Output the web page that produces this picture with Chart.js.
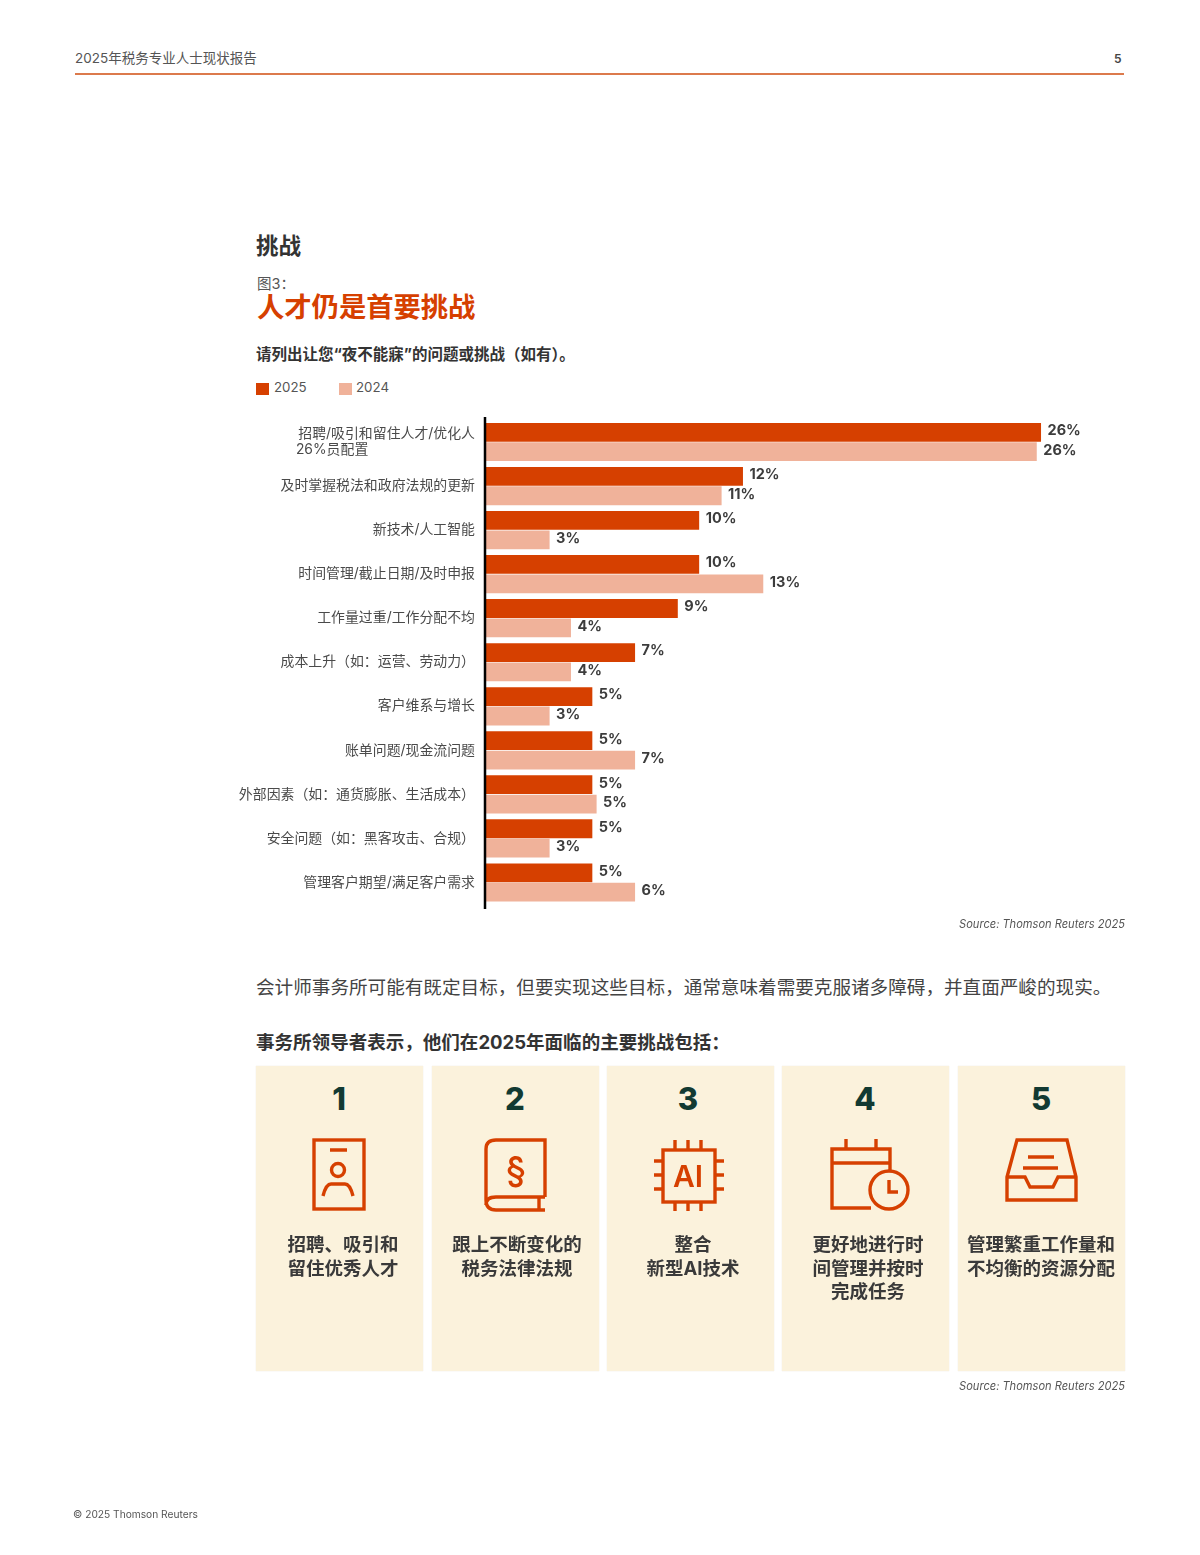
<!DOCTYPE html>
<html lang="zh-CN">
<head>
<meta charset="UTF-8">
<title>人才仍是首要挑战</title>
<style>
  body { margin: 0; background: #fff; font-family: Inter, "Noto Sans CJK SC", sans-serif; color: #3c3c3c; }
  #page { position: relative; width: 1200px; height: 1555px; overflow: hidden; }
  .t { position: absolute; white-space: nowrap; }
  .card { position: absolute; top: 1066px; width: 167px; height: 305px; background: #fbf2dc; box-shadow: 0 0 1px #e6e0d2; }
  .num { position: absolute; top: 1081px; width: 60px; text-align: center; font-size: 31px; line-height: 36px; font-weight: 800; color: #123a32; }
  .cardText { position: absolute; top: 1233px; width: 170px; text-align: center; font-size: 18.5px; line-height: 23.7px; font-weight: 700; color: #3a3a3a; }
  .src { font-size: 11.1px; font-style: italic; color: #555; line-height: 14px; }
  .swatch { position: absolute; top: 383px; width: 13px; height: 12px; }
  #chartBox { position: absolute; left: 230px; top: 410px; width: 900px; height: 510px; }
  svg { position: absolute; left: 0; top: 0; }
</style>
</head>
<body>
<div id="page">
  <div class="t" style="left:75px;top:49px;font-size:13.5px;line-height:18px;color:#555">2025年税务专业人士现状报告</div>
  <div class="t" style="left:1114px;top:50px;font-size:12px;line-height:18px;font-weight:600;color:#444">5</div>
  <div style="position:absolute;left:75px;top:73px;width:1049px;height:2px;background:#dc7a4c"></div>

  <div class="t" style="left:256px;top:231px;font-size:22.5px;line-height:30px;font-weight:700;color:#333">挑战</div>
  <div class="t" style="left:257px;top:274px;font-size:14.5px;line-height:20px;color:#555">图3&#xff1a;</div>
  <div class="t" style="left:257px;top:289px;font-size:27.3px;line-height:38px;font-weight:700;color:#d64000">人才仍是首要挑战</div>
  <div class="t" style="left:256px;top:345px;font-size:15.5px;line-height:20px;font-weight:700;color:#333">请列出让您“夜不能寐”的问题或挑战&#xff08;如有&#xff09;。</div>

  <div class="swatch" style="left:256px;background:#d64000"></div>
  <div class="t" id="lg0" style="left:274px;top:378px;font-size:13.3px;line-height:18px;color:#555"></div>
  <div class="swatch" style="left:339px;background:#f0b29a"></div>
  <div class="t" id="lg1" style="left:356px;top:378px;font-size:13.3px;line-height:18px;color:#555"></div>

  <div id="chartBox"><canvas id="myChart"></canvas></div>

  <div class="t src" style="right:75px;top:917px">Source: Thomson Reuters 2025</div>
  <div class="t" style="left:256px;top:974px;font-size:18.6px;line-height:26px;color:#444">会计师事务所可能有既定目标&#xff0c;但要实现这些目标&#xff0c;通常意味着需要克服诸多障碍&#xff0c;并直面严峻的现实。</div>
  <div class="t" style="left:256px;top:1030px;font-size:18.55px;line-height:25px;font-weight:700;color:#333">事务所领导者表示&#xff0c;他们在2025年面临的主要挑战包括&#xff1a;</div>

  <div class="card" style="left:256px"></div>
  <div class="card" style="left:432px"></div>
  <div class="card" style="left:607px"></div>
  <div class="card" style="left:782px"></div>
  <div class="card" style="left:958px"></div>

  <div class="num" style="left:309px">1</div>
  <div class="num" style="left:485px">2</div>
  <div class="num" style="left:658px">3</div>
  <div class="num" style="left:835px">4</div>
  <div class="num" style="left:1011px">5</div>

  <svg width="1200" height="1555" fill="none" stroke="#d64000" stroke-width="3.4">
    <!-- badge -->
    <rect x="314" y="1140" width="50" height="69"/>
    <path d="M330 1150H347M323 1196q3-12 8-12h14q5 0 8 12"/>
    <circle cx="338" cy="1170" r="6.5"/>
    <!-- book -->
    <path d="M545 1197V1140H496q-10 0-10 9V1200q0 10 10 10H545M486 1205q0-8 10-8H545M539 1197V1210"/>
    <text x="516" y="1182" font-size="36" font-weight="500" fill="#d64000" stroke="none" text-anchor="middle">§</text>
    <!-- chip -->
    <rect x="663" y="1150" width="52" height="52"/>
    <path d="M675 1140V1150M688 1140V1150M701 1140V1150M675 1202V1211M688 1202V1211M701 1202V1211M654 1161H663M654 1175H663M654 1189H663M715 1161H724M715 1175H724M715 1189H724"/>
    <text x="688" y="1187" font-size="30" font-weight="600" fill="#d64000" stroke="none" text-anchor="middle">AI</text>
    <!-- calendar -->
    <path d="M871 1208H832V1149H890V1170M832 1163H890M846 1139V1149M876 1139V1149"/>
    <circle cx="889" cy="1190" r="19"/>
    <path d="M889 1180V1192H898"/>
    <!-- tray -->
    <path d="M1017 1140H1067L1076 1177V1200H1007V1177ZM1007 1177H1025L1030 1187H1053L1058 1177H1076M1028 1157H1054M1023 1168H1058"/>
  </svg>

  <div class="cardText" style="left:258px">招聘、吸引和<br>留住优秀人才</div>
  <div class="cardText" style="left:432px">跟上不断变化的<br>税务法律法规</div>
  <div class="cardText" style="left:608px">整合<br>新型AI技术</div>
  <div class="cardText" style="left:783px">更好地进行时<br>间管理并按时<br>完成任务</div>
  <div class="cardText" style="left:956px">管理繁重工作量和<br>不均衡的资源分配</div>

  <div class="t src" style="right:75px;top:1379px">Source: Thomson Reuters 2025</div>
  <div class="t" style="left:73px;top:1507px;font-size:10.2px;line-height:14px;color:#555">© 2025 Thomson Reuters</div>
</div>

<script src="https://cdn.jsdelivr.net/npm/chart.js"></script>
<script>
// first label keeps the odd left aligned second line of the source
const categories = [
    ['招聘/吸引和留住人才/优化人', '26%员配置\u3000\u3000\u3000\u3000\u3000\u3000\u3000\u2002\u2009'],
    '及时掌握税法和政府法规的更新',
    '新技术/人工智能',
    '时间管理/截止日期/及时申报',
    '工作量过重/工作分配不均',
    '成本上升\uff08如\uff1a运营、劳动力\uff09',
    '客户维系与增长',
    '账单问题/现金流问题',
    '外部因素\uff08如\uff1a通货膨胀、生活成本\uff09',
    '安全问题\uff08如\uff1a黑客攻击、合规\uff09',
    '管理客户期望/满足客户需求'
];
const seriesNames = ['2025', '2024'];
// bar lengths
const values2025 = [26, 12.05, 10, 10, 9, 7, 5, 5, 5, 5, 5];
const values2024 = [25.8, 11.05, 3, 13, 4, 4, 3, 7, 5.2, 3, 7];
// printed labels, the 6% on the last bar is longer than it says
const labels2025 = ['26%', '12%', '10%', '10%', '9%', '7%', '5%', '5%', '5%', '5%', '5%'];
const labels2024 = ['26%', '11%', '3%', '13%', '4%', '4%', '3%', '7%', '5%', '3%', '6%'];

document.getElementById('lg0').textContent = seriesNames[0];
document.getElementById('lg1').textContent = seriesNames[1];

const barLabels = {
    id: 'barLabels',
    afterDatasetsDraw(chart) {
        const c = chart.ctx;
        const printed = [labels2025, labels2024];
        c.save();
        c.font = '700 14.5px Inter, "Noto Sans CJK SC"';
        c.fillStyle = '#3c3c3c';
        c.textBaseline = 'middle';
        chart.data.datasets.forEach((ds, i) => {
            chart.getDatasetMeta(i).data.forEach((bar, j) => {
                c.fillText(printed[i][j], bar.x + 6.5, bar.y - 1.5);
            });
        });
        c.restore();
    }
};

// axis line runs a bit past the plot area on both ends
const axisLine = {
    id: 'axisLine',
    afterDatasetsDraw(chart) {
        const c = chart.ctx;
        const a = chart.chartArea;
        c.save();
        c.strokeStyle = '#000';
        c.lineWidth = 2.5;
        c.beginPath();
        c.moveTo(a.left - 0.5, a.top - 3);
        c.lineTo(a.left - 0.5, a.bottom + 4.5);
        c.stroke();
        c.restore();
    }
};

const myChart = new Chart(document.getElementById('myChart'), {
    type: 'bar',
    data: {
        labels: categories,
        datasets: [
            { label: seriesNames[0], data: values2025, backgroundColor: '#d64000' },
            { label: seriesNames[1], data: values2024, backgroundColor: '#f0b29a' }
        ]
    },
    options: {
        indexAxis: 'y',
        responsive: true,
        maintainAspectRatio: false,
        animation: false,
        layout: { padding: { top: 10, bottom: 15.5, right: 3.5 } },
        datasets: { bar: { barPercentage: 0.97, categoryPercentage: 0.88 } },
        plugins: {
            legend: { display: false },
            tooltip: { enabled: false }
        },
        scales: {
            x: { display: false, min: 0, max: 30 },
            y: {
                grid: { display: false, drawTicks: false },
                border: { display: false },
                // tick padding otherwise eats into the plot height
                afterFit: scale => {
                    scale.width = 255.5;
                    scale.paddingTop = 0;
                    scale.paddingBottom = 0;
                },
                ticks: {
                    padding: 10.5,
                    color: '#4a4a4a',
                    font: { family: 'Inter, "Noto Sans CJK SC"', size: 13.9, lineHeight: 1.12 },
                    autoSkip: false
                }
            }
        }
    },
    plugins: [barLabels, axisLine]
});
</script>
</body>
</html>
